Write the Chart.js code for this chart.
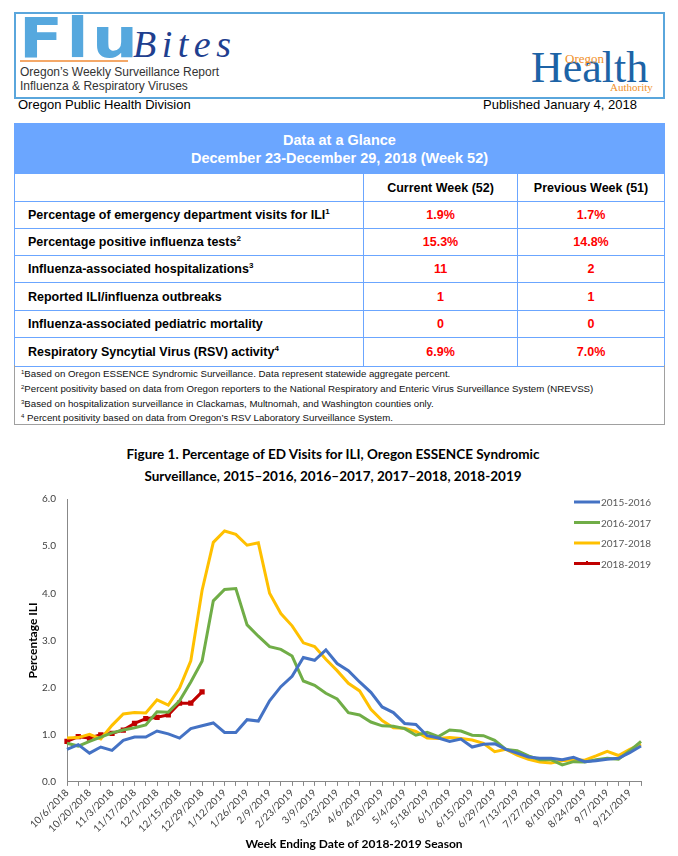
<!DOCTYPE html>
<html>
<head>
<meta charset="utf-8">
<script src="https://cdn.jsdelivr.net/npm/chart.js@4.4.1/dist/chart.umd.min.js"></script>
<style>
  html, body { margin: 0; padding: 0; background: #fff; }
  body { width: 678px; height: 856px; position: relative; overflow: hidden; font-family: "Liberation Sans", Arial, sans-serif; color: #000; }
  .abs { position: absolute; white-space: nowrap; }
  #hdr { left: 14px; top: 12px; width: 647px; height: 83px; border: 2px solid #5aa6dc; }
  #flu { left: 19px; top: 10px; font: bold 56px "DejaVu Sans", sans-serif; color: #56a8de; letter-spacing: 3px; line-height: 56px; transform: scaleX(1.15); transform-origin: left top; }
  #bites { left: 133px; top: 25px; font: italic 38px "Liberation Serif", serif; color: #1f3f8f; letter-spacing: 5.5px; line-height: 38px; }
  #fluline { left: 20px; top: 60px; width: 108px; height: 2px; background: #f4a868; }
  .sub { left: 20px; font-size: 12px; color: #333; line-height: 14px; }
  #health { left: 531px; top: 46px; font: 44px "Liberation Serif", serif; color: #1d63a6; line-height: 44px; }
  #oregon { left: 565px; top: 52px; font: 13px "Liberation Serif", serif; color: #f0902a; line-height: 13px; }
  #auth { left: 610px; top: 82px; font: 11px "Liberation Serif", serif; color: #f0902a; line-height: 11px; }
  table { border-collapse: collapse; position: absolute; left: 14px; top: 123px; width: 650px; table-layout: fixed; }
  td { border: 1.5px solid #6ba6ff; font-weight: bold; font-size: 12.5px; padding: 0; }
  td.h { background: #6ba6ff; color: #fff; text-align: center; font-size: 14.5px; line-height: 18px; height: 49px; }
  td.l { padding-left: 13px; }
  td.v { color: #ff0000; text-align: center; }
  td.c { text-align: center; }
  sup { font-size: 8px; vertical-align: 5px; line-height: 0; }
  #notes { left: 14px; top: 365px; width: 649px; height: 59px; border: 1px solid #a0a0a0; border-top: none; font-size: 9.7px; color: #111; }
  #notes div { position: absolute; left: 6px; }
  #notes sup { font-size: 6px; vertical-align: 3px; }
  #ctitle { left: 0; top: 444px; width: 666px; text-align: center; font: bold 13.5px Lato, "Open Sans", sans-serif; line-height: 21.6px; }
  #wrap { left: 0; top: 437px; width: 678px; height: 419px; }
</style>
</head>
<body>
<div id="hdr" class="abs"></div>
<div id="flu" class="abs">Flu</div>
<div id="fluline" class="abs"></div>
<div id="bites" class="abs">Bites</div>
<div class="abs sub" style="top:65px">Oregon’s Weekly Surveillance Report</div>
<div class="abs sub" style="top:79px">Influenza &amp; Respiratory Viruses</div>
<div id="health" class="abs">Health</div>
<div id="oregon" class="abs">Oregon</div>
<div id="auth" class="abs">Authority</div>
<div class="abs" style="left:18px;top:97px;font-size:13px">Oregon Public Health Division</div>
<div class="abs" style="right:41px;top:97px;font-size:13px">Published January 4, 2018</div>

<table>
  <colgroup><col style="width:349px"><col style="width:154px"><col style="width:147px"></colgroup>
  <tr><td class="h" colspan="3">Data at a Glance<br>December 23-December 29, 2018 (Week 52)</td></tr>
  <tr style="height:28px"><td></td><td class="c">Current Week (52)</td><td class="c">Previous Week (51)</td></tr>
  <tr style="height:27px"><td class="l">Percentage of emergency department visits for ILI<sup>1</sup></td><td class="v">1.9%</td><td class="v">1.7%</td></tr>
  <tr style="height:27px"><td class="l">Percentage positive influenza tests<sup>2</sup></td><td class="v">15.3%</td><td class="v">14.8%</td></tr>
  <tr style="height:27px"><td class="l">Influenza-associated hospitalizations<sup>3</sup></td><td class="v">11</td><td class="v">2</td></tr>
  <tr style="height:28px"><td class="l">Reported ILI/influenza outbreaks</td><td class="v">1</td><td class="v">1</td></tr>
  <tr style="height:27px"><td class="l">Influenza-associated pediatric mortality</td><td class="v">0</td><td class="v">0</td></tr>
  <tr style="height:29px"><td class="l">Respiratory Syncytial Virus (RSV) activity<sup>4</sup></td><td class="v">6.9%</td><td class="v">7.0%</td></tr>
</table>
<div id="notes" class="abs">
  <div style="top:3px"><sup>1</sup>Based on Oregon ESSENCE Syndromic Surveillance. Data represent statewide aggregate percent.</div>
  <div style="top:18px"><sup>2</sup>Percent positivity based on data from Oregon reporters to the National Respiratory and Enteric Virus Surveillance System (NREVSS)</div>
  <div style="top:33px"><sup>3</sup>Based on hospitalization surveillance in Clackamas, Multnomah, and Washington counties only.</div>
  <div style="top:47px"><sup>4</sup> Percent positivity based on data from Oregon’s RSV Laboratory Surveillance System.</div>
</div>

<div id="ctitle" class="abs">Figure 1. Percentage of ED Visits for ILI, Oregon ESSENCE Syndromic<br>Surveillance, 2015–2016, 2016–2017, 2017–2018, 2018-2019</div>
<div id="wrap" class="abs"><canvas id="chart"></canvas></div>

<script>
var weeks = [
  "10/6/2018", "10/13/2018", "10/20/2018", "10/27/2018", "11/3/2018", "11/10/2018", "11/17/2018", "11/24/2018",
  "12/1/2018", "12/8/2018", "12/15/2018", "12/22/2018", "12/29/2018", "1/5/2019", "1/12/2019", "1/19/2019",
  "1/26/2019", "2/2/2019", "2/9/2019", "2/16/2019", "2/23/2019", "3/2/2019", "3/9/2019", "3/16/2019",
  "3/23/2019", "3/30/2019", "4/6/2019", "4/13/2019", "4/20/2019", "4/27/2019", "5/4/2019", "5/11/2019",
  "5/18/2019", "5/25/2019", "6/1/2019", "6/8/2019", "6/15/2019", "6/22/2019", "6/29/2019", "7/6/2019",
  "7/13/2019", "7/20/2019", "7/27/2019", "8/3/2019", "8/10/2019", "8/17/2019", "8/24/2019", "8/31/2019",
  "9/7/2019", "9/14/2019", "9/21/2019", "9/28/2019"
];

var season1516 = [0.69, 0.79, 0.61, 0.74, 0.67, 0.88, 0.95, 0.95, 1.08, 1.02, 0.93, 1.13, 1.19, 1.25, 1.05, 1.05,
  1.32, 1.29, 1.72, 2.02, 2.24, 2.64, 2.58, 2.80, 2.51, 2.36, 2.12, 1.90, 1.59, 1.47, 1.24, 1.22,
  0.98, 0.93, 0.86, 0.91, 0.74, 0.80, 0.81, 0.69, 0.61, 0.53, 0.50, 0.50, 0.47, 0.52, 0.43, 0.45,
  0.48, 0.50, 0.62, 0.76];
var season1617 = [0.82, 0.76, 0.86, 0.95, 1.04, 1.10, 1.15, 1.21, 1.49, 1.48, 1.72, 2.12, 2.56, 3.84, 4.08, 4.10,
  3.33, 3.09, 2.87, 2.81, 2.67, 2.14, 2.05, 1.88, 1.76, 1.47, 1.42, 1.27, 1.19, 1.18, 1.13, 0.99,
  1.05, 0.96, 1.10, 1.08, 0.99, 0.98, 0.88, 0.69, 0.66, 0.55, 0.47, 0.47, 0.36, 0.43, 0.42, 0.47,
  0.50, 0.48, 0.66, 0.86];
var season1718 = [0.93, 0.94, 1.01, 0.91, 1.20, 1.44, 1.47, 1.46, 1.74, 1.63, 1.99, 2.57, 4.06, 5.08, 5.32, 5.25,
  5.02, 5.07, 4.00, 3.57, 3.31, 2.95, 2.87, 2.60, 2.36, 2.09, 1.93, 1.54, 1.30, 1.15, 1.14, 1.07,
  0.93, 0.92, 0.94, 0.92, 0.89, 0.82, 0.64, 0.69, 0.57, 0.48, 0.42, 0.40, 0.45, 0.47, 0.46, 0.55,
  0.65, 0.56, 0.69, 0.80];
var season1819 = [0.86, 0.96, 0.93, 1.00, 1.03, 1.10, 1.24, 1.34, 1.37, 1.42, 1.67, 1.67, 1.91];

var seasonNames = ["2015-2016", "2016-2017", "2017-2018", "2018-2019"];
var yTicks = [0, 1, 2, 3, 4, 5, 6];

var font = "Lato, 'Open Sans', sans-serif";

// legend drawn inside the plot, top right, like the Excel original
var insideLegend = {
  id: "insideLegend",
  afterDraw: function (chart) {
    var c = chart.ctx, area = chart.chartArea;
    c.save();
    c.font = "10px " + font;
    c.textBaseline = "middle";
    chart.data.datasets.forEach(function (ds, i) {
      var x = area.right - 67, y = area.top + 3 + i * 20.5;
      c.strokeStyle = ds.borderColor;
      c.lineWidth = 3;
      c.beginPath();
      c.moveTo(x, y);
      c.lineTo(x + 26, y);
      c.stroke();
      if (ds.pointRadius) {
        c.fillStyle = ds.borderColor;
        c.fillRect(x + 12, y - 2.5, 2, 4);
      }
      c.fillStyle = "#595959";
      c.fillText(ds.label, x + 27, y + 1);
    });
    c.restore();
  }
};

function series(label, data, color, pts) {
  return {
    label: label,
    data: data,
    borderColor: color,
    backgroundColor: color,
    borderWidth: 3,
    pointRadius: pts ? 1.6 : 0,
    pointStyle: "rect",
    pointHoverRadius: 0,
    tension: 0,
    fill: false
  };
}

new Chart(document.getElementById("chart"), {
  type: "line",
  data: {
    labels: weeks,
    datasets: [
      series(seasonNames[0], season1516, "#4472c4"),
      series(seasonNames[1], season1617, "#70ad47"),
      series(seasonNames[2], season1718, "#ffc000"),
      series(seasonNames[3], season1819, "#c00000", true)
    ]
  },
  options: {
    responsive: true,
    maintainAspectRatio: false,
    animation: false,
    layout: { padding: { top: 62, right: 37, left: 0, bottom: 5 } },
    plugins: {
      legend: { display: false },
      tooltip: { enabled: false },
      title: { display: false }
    },
    scales: {
      x: {
        offset: false,
        grid: { drawOnChartArea: false, drawTicks: true, tickLength: 4, color: "#888" },
        border: { color: "#888", width: 1 },
        ticks: {
          autoSkip: false,
          minRotation: 45,
          maxRotation: 45,
          padding: 1,
          color: "#404040",
          font: { family: font, size: 10 },
          callback: function (v, i) { return i % 2 === 0 ? this.getLabelForValue(v) : ""; }
        },
        title: {
          display: true,
          text: "Week Ending Date of 2018-2019 Season",
          color: "#000",
          font: { family: font, size: 12, weight: "bold" },
          padding: { top: 1, bottom: 0 }
        }
      },
      y: {
        min: 0,
        max: 6,
        afterFit: function (scale) { scale.width = 67; },
        afterBuildTicks: function (scale) { scale.ticks = yTicks.map(function (v) { return { value: v }; }); },
        grid: { display: false, drawTicks: false },
        border: { color: "#888", width: 1 },
        ticks: {
          padding: 11,
          color: "#404040",
          font: { family: font, size: 10 },
          callback: function (v) { return v.toFixed(1); }
        },
        title: {
          display: true,
          text: "Percentage ILI",
          color: "#000",
          font: { family: font, size: 12, weight: "bold" },
          padding: { top: 26, bottom: 0 }
        }
      }
    }
  },
  plugins: [insideLegend]
});
</script>
</body>
</html>
